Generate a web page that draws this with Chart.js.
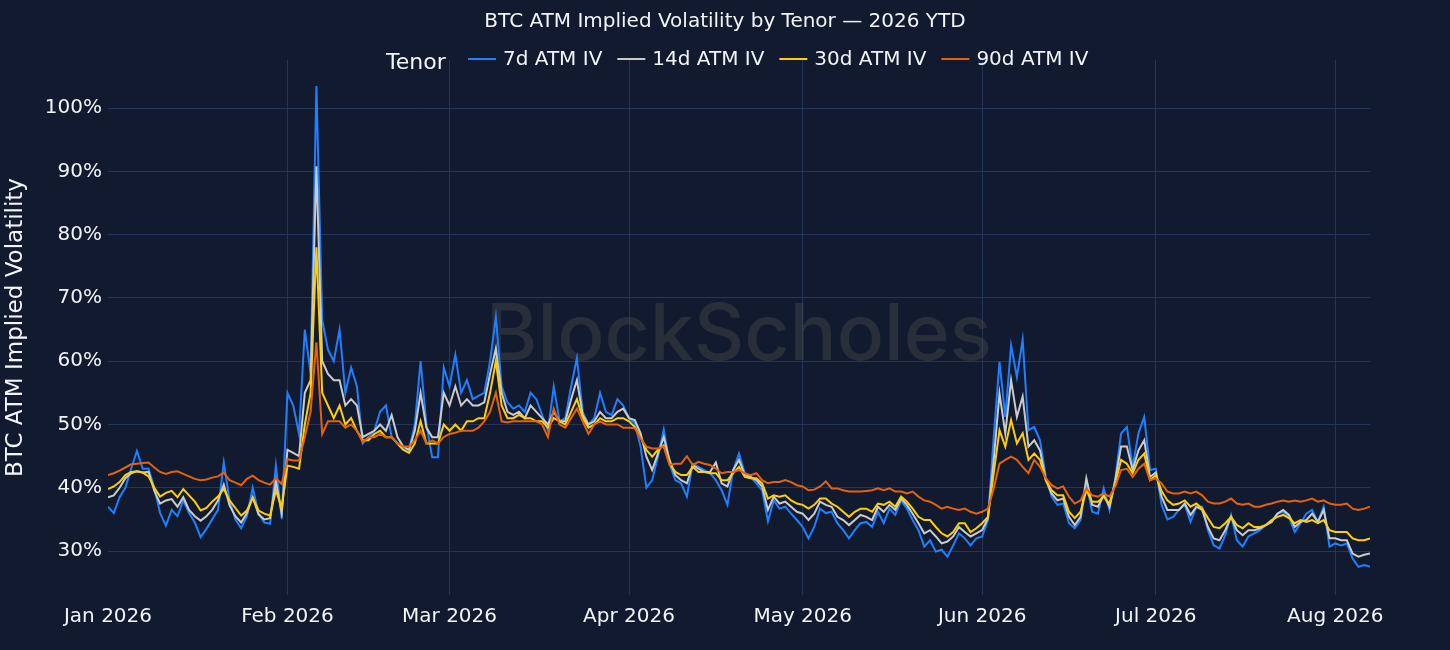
<!DOCTYPE html>
<html>
<head>
<meta charset="utf-8">
<title>BTC ATM Implied Volatility by Tenor</title>
<script src="https://cdn.jsdelivr.net/npm/chart.js@4.4.1/dist/chart.umd.min.js"></script>
<style>
    html, body { margin: 0; padding: 0; background: #111a2e; }
    #ivChart { display: block; }
</style>
</head>
<body>
<canvas id="ivChart" width="1450" height="650"></canvas>
<script>
// BTC ATM implied vol by tenor, one reading per day. Day 0 = 1 Jan 2026.
const chartTitle = 'BTC ATM Implied Volatility by Tenor — 2026 YTD';
const yAxisTitle = 'BTC ATM Implied Volatility';
const legendTitle = 'Tenor';
const watermark = 'BlockScholes';

const monthStarts = [0, 31, 59, 90, 120, 151, 181, 212];
const monthLabels = ['Jan 2026', 'Feb 2026', 'Mar 2026', 'Apr 2026', 'May 2026', 'Jun 2026', 'Jul 2026', 'Aug 2026'];
const yTicks = [30, 40, 50, 60, 70, 80, 90, 100];

const seriesLabels = ['7d ATM IV', '14d ATM IV', '30d ATM IV', '90d ATM IV'];
const seriesColors = ['#1f80ff', '#cbcbcb', '#ffd000', '#e5620b'];

const iv7d = [
    37.0, 36.0, 38.5, 40.0, 43.0, 45.8, 43.0, 43.0, 40.0, 36.0,
    34.0, 36.5, 35.5, 38.0, 36.0, 34.5, 32.2, 33.5, 35.0, 36.5,
    44.0, 38.0, 35.0, 33.6, 35.5, 40.0, 36.0, 34.5, 34.3, 43.5,
    35.2, 55.0, 53.0, 48.5, 65.0, 58.0, 103.5, 66.5, 61.8, 60.0,
    65.0, 55.0, 59.0, 56.0, 47.0, 48.0, 49.0, 52.0, 53.0, 48.0,
    47.0, 46.0, 46.0, 50.0, 60.0, 50.0, 44.8, 44.8, 59.0, 56.0,
    61.0, 55.0, 57.0, 54.0, 54.5, 55.0, 60.0, 67.0, 56.0, 53.5,
    52.5, 53.0, 52.0, 55.0, 54.0, 51.5, 49.0, 56.0, 50.5, 51.0,
    56.0, 60.5, 52.0, 50.0, 51.0, 55.0, 52.0, 51.5, 54.0, 53.0,
    51.0, 50.2, 46.5, 40.0, 41.2, 44.9, 49.2, 43.8, 41.2, 40.7,
    38.6, 43.8, 43.3, 42.8, 42.3, 41.2, 39.6, 37.3, 42.8, 45.4,
    42.3, 41.7, 40.7, 39.6, 34.7, 38.0, 36.7, 37.0, 35.9, 34.9,
    33.8, 32.0, 33.8, 36.7, 36.0, 36.2, 34.4, 33.3, 32.0, 33.3,
    34.4, 34.6, 33.8, 36.2, 34.4, 36.7, 35.7, 38.0, 36.7, 34.9,
    33.3, 30.7, 31.7, 29.9, 30.2, 29.1, 30.9, 32.8, 32.0, 30.9,
    32.0, 32.3, 34.9, 48.1, 59.9, 51.2, 62.5, 57.5, 63.4, 49.1,
    49.6, 47.5, 41.7, 38.6, 37.3, 37.5, 34.4, 33.6, 34.9, 40.7,
    36.2, 35.9, 39.9, 36.5, 41.5, 48.6, 49.6, 43.3, 48.6, 51.2,
    42.8, 43.0, 37.3, 35.0, 35.4, 36.5, 37.3, 34.6, 37.0, 37.0,
    33.3, 30.9, 30.4, 32.5, 35.7, 31.7, 30.7, 32.3, 32.8, 33.3,
    34.1, 34.6, 35.9, 36.2, 35.4, 33.0, 34.4, 35.9, 36.5, 34.6,
    37.0, 30.7, 31.2, 30.9, 31.2, 28.8, 27.5, 27.8, 27.5
];

const iv14d = [
    38.5, 38.8, 40.0, 41.5, 42.3, 42.6, 42.4, 42.5, 39.5, 37.5,
    38.0, 38.2, 37.0, 38.5, 36.5, 35.5, 34.8, 35.5, 36.5, 38.0,
    40.5, 37.2, 35.5, 34.5, 36.0, 38.5, 35.8, 35.0, 35.2, 41.0,
    36.0, 46.0, 45.5, 45.0, 55.0, 57.0, 90.8, 60.0, 58.0, 57.0,
    57.0, 53.0, 54.0, 53.0, 48.0, 48.5, 49.0, 50.0, 49.0, 51.5,
    48.0, 46.5, 46.0, 49.0, 55.0, 49.5, 48.0, 48.0, 55.0, 53.0,
    56.0, 53.0, 54.0, 53.0, 53.0, 53.5, 58.0, 62.0, 55.0, 52.0,
    51.5, 52.0, 51.0, 53.0, 52.0, 51.0, 50.0, 52.0, 50.5, 50.5,
    54.0, 57.0, 51.5, 50.0, 50.5, 52.0, 51.0, 51.0, 52.0, 52.5,
    51.0, 50.7, 48.6, 44.9, 42.8, 45.4, 48.0, 44.4, 42.0, 41.2,
    40.7, 43.6, 43.0, 42.5, 42.5, 44.0, 40.7, 40.2, 42.8, 44.4,
    42.0, 41.7, 41.2, 40.2, 36.5, 38.6, 37.5, 37.8, 37.0, 36.2,
    35.9, 34.9, 35.9, 37.8, 37.3, 37.0, 35.4, 34.9, 34.1, 34.9,
    35.7, 35.4, 34.9, 37.0, 36.2, 37.3, 36.5, 38.3, 37.3, 35.9,
    34.4, 32.8, 33.3, 32.3, 31.2, 31.5, 32.3, 33.8, 33.0, 32.3,
    32.8, 33.3, 35.2, 44.4, 54.9, 48.6, 57.0, 51.2, 54.4, 46.5,
    47.5, 45.9, 41.2, 39.1, 38.0, 38.3, 35.4, 34.1, 35.4, 41.5,
    37.3, 37.0, 38.8, 37.0, 41.2, 46.5, 46.5, 42.8, 45.9, 47.5,
    41.7, 42.4, 38.6, 36.5, 36.5, 36.5, 37.5, 35.7, 37.0, 36.5,
    33.8, 32.0, 31.7, 33.3, 35.4, 33.3, 32.5, 33.3, 33.3, 33.6,
    34.1, 34.6, 35.9, 36.5, 35.7, 33.8, 34.6, 34.9, 35.9, 34.6,
    36.5, 32.0, 32.0, 31.7, 31.7, 29.6, 29.1, 29.4, 29.6
];

const iv30d = [
    39.8, 40.2, 40.9, 42.0, 42.5, 42.6, 42.4, 41.8, 40.0, 38.6,
    39.2, 39.5, 38.5, 39.8, 38.8, 37.8, 36.4, 36.8, 37.8, 38.6,
    39.8, 38.0, 36.8, 35.6, 36.4, 38.4, 36.4, 35.9, 35.6, 39.6,
    36.8, 43.5, 43.3, 43.0, 50.0, 55.0, 78.0, 55.0, 53.0, 51.0,
    53.0, 50.0, 51.0, 49.0, 47.5, 47.5, 48.5, 49.0, 48.0, 48.0,
    47.0, 46.0, 45.5, 47.0, 50.5, 47.0, 47.0, 47.0, 50.0, 49.0,
    50.0, 49.0, 50.5, 50.5, 51.0, 51.0, 55.0, 60.0, 53.0, 51.0,
    51.0, 51.5, 51.0, 51.0, 50.5, 50.5, 49.5, 51.0, 50.5, 50.0,
    52.0, 54.0, 51.0, 49.5, 50.0, 51.0, 50.5, 50.5, 51.0, 51.0,
    50.5, 49.6, 48.0, 46.0, 44.9, 46.0, 46.7, 43.8, 42.5, 42.0,
    42.0, 43.3, 42.5, 42.5, 42.3, 42.3, 41.2, 41.2, 42.3, 43.3,
    41.7, 41.5, 41.5, 40.7, 38.3, 38.8, 38.6, 38.8, 38.0, 37.5,
    37.3, 36.7, 37.3, 38.3, 38.3, 37.5, 37.0, 36.2, 35.4, 36.2,
    36.7, 36.7, 36.2, 37.5, 37.3, 37.8, 37.0, 38.6, 37.8, 36.7,
    35.4, 34.9, 34.9, 33.8, 32.8, 32.3, 33.0, 34.4, 34.4, 33.0,
    33.6, 34.4, 35.4, 42.3, 49.1, 46.5, 50.7, 47.0, 48.6, 44.4,
    45.4, 44.4, 41.2, 39.6, 38.8, 38.8, 36.2, 35.2, 36.2, 39.6,
    37.8, 37.8, 38.6, 37.5, 40.7, 44.4, 43.8, 42.3, 44.4, 45.4,
    41.2, 42.0, 39.5, 38.0, 37.3, 37.5, 38.0, 37.0, 37.5, 36.7,
    35.2, 33.8, 33.6, 34.4, 35.4, 34.1, 33.6, 34.4, 33.8, 33.8,
    34.1, 34.9, 35.4, 35.7, 35.2, 34.4, 34.9, 34.6, 34.9, 34.4,
    34.9, 33.3, 33.0, 33.0, 33.0, 32.0, 31.7, 31.7, 32.0
];

const iv90d = [
    42.0, 42.3, 42.7, 43.2, 43.7, 43.8, 43.9, 44.0, 43.2, 42.5,
    42.2, 42.5, 42.6, 42.2, 41.8, 41.4, 41.2, 41.3, 41.6, 41.8,
    42.4, 41.2, 40.8, 40.4, 41.4, 41.9, 41.2, 40.8, 40.5, 41.5,
    40.6, 44.5, 44.3, 44.3, 48.0, 52.0, 63.0, 48.5, 50.5, 50.5,
    50.5, 49.5, 50.0, 49.0, 47.2, 48.0, 48.0, 48.5, 48.0, 48.0,
    47.0, 46.5, 46.5, 47.5, 49.0, 47.0, 47.5, 47.0, 48.0, 48.5,
    48.7, 49.0, 49.0, 49.0, 49.5, 50.5, 52.0, 55.0, 50.5, 50.3,
    50.5, 50.5, 50.5, 50.5, 50.5, 50.0, 48.0, 52.5, 50.0, 49.5,
    51.0, 52.5, 50.5, 48.5, 50.0, 50.5, 50.0, 50.0, 50.0, 49.5,
    49.5, 49.4, 47.8, 46.5, 46.2, 46.2, 46.5, 43.6, 43.8, 43.8,
    45.0, 43.6, 44.1, 43.8, 43.6, 43.0, 42.3, 42.5, 42.5, 42.8,
    42.3, 42.0, 42.3, 41.2, 40.7, 40.9, 40.9, 41.2, 40.9, 40.4,
    40.2, 39.6, 39.7, 40.2, 41.0, 39.9, 39.9, 39.6, 39.4, 39.4,
    39.4, 39.5, 39.6, 39.9, 39.6, 39.9, 39.4, 39.4, 39.1, 39.4,
    38.6, 38.0, 37.8, 37.3, 36.7, 37.0, 36.7, 36.5, 36.7, 36.2,
    35.9, 36.2, 36.7, 39.9, 43.8, 44.4, 44.9, 44.4, 43.3, 42.3,
    44.4, 43.3, 41.5, 40.4, 39.9, 40.2, 38.6, 37.5, 38.0, 39.9,
    38.8, 38.6, 39.1, 38.6, 40.2, 42.8, 43.0, 41.7, 43.0, 43.8,
    41.2, 41.5, 40.7, 39.4, 39.1, 39.1, 39.4, 39.1, 39.4, 38.8,
    37.8, 37.5, 37.5, 37.8, 38.3, 37.5, 37.3, 37.5, 37.0, 37.0,
    37.3, 37.5, 37.8, 38.0, 37.8, 38.0, 37.8, 38.0, 38.3, 37.8,
    38.0, 37.5, 37.3, 37.3, 37.5, 36.7, 36.5, 36.7, 37.0
];

const seriesValues = [iv7d, iv14d, iv30d, iv90d];

const fontFamily = "'DejaVu Sans', Verdana, sans-serif";
const textColor = '#f2f4f8';
const gridColor = '#25355a';

function toPoints(values) {
    return values.map((v, day) => ({ x: day, y: v }));
}

// Title, legend with its "Tenor" heading, and the watermark are painted by hand.
const decorPlugin = {
    id: 'decor',
    beforeDatasetsDraw(chart) {
        const { ctx, chartArea } = chart;
        const markFont = (size) => `500 ${size}px Inter, Lato, ${fontFamily}`;
        ctx.save();
        ctx.font = markFont(80);
        const size = 80 * 506 / ctx.measureText(watermark).width;
        ctx.font = markFont(size);
        ctx.fillStyle = 'rgba(72, 72, 76, 0.45)';
        ctx.textAlign = 'center';
        ctx.textBaseline = 'alphabetic';
        ctx.fillText(watermark, (chartArea.left + chartArea.right) / 2, 360);
        ctx.restore();
    },
    afterDraw(chart) {
        const ctx = chart.ctx;
        ctx.save();
        ctx.fillStyle = textColor;
        ctx.textBaseline = 'middle';

        ctx.font = `20px ${fontFamily}`;
        ctx.textAlign = 'center';
        ctx.fillText(chartTitle, chart.width / 2, 22);

        ctx.textAlign = 'left';
        ctx.font = `22px ${fontFamily}`;
        ctx.fillText(legendTitle, 386, 63);

        ctx.font = `20px ${fontFamily}`;
        let x = 468;
        chart.data.datasets.forEach((ds) => {
            ctx.strokeStyle = ds.borderColor;
            ctx.lineWidth = 2;
            ctx.beginPath();
            ctx.moveTo(x, 59);
            ctx.lineTo(x + 28, 59);
            ctx.stroke();
            ctx.fillStyle = textColor;
            ctx.fillText(ds.label, x + 35, 60);
            x += 35 + ctx.measureText(ds.label).width + 15;
        });
        ctx.restore();
    },
};

const datasets = seriesLabels.map((label, i) => ({
    label,
    data: toPoints(seriesValues[i]),
    borderColor: seriesColors[i],
    backgroundColor: seriesColors[i],
    borderWidth: 2,
    pointRadius: 0,
    tension: 0,
    fill: false,
    order: seriesLabels.length - 1 - i,
}));

new Chart(document.getElementById('ivChart'), {
    type: 'line',
    data: { datasets },
    options: {
        responsive: false,
        animation: false,
        layout: { padding: { top: 60, right: 80, left: 0, bottom: 0 } },
        plugins: {
            legend: { display: false },
            title: { display: false },
            tooltip: { enabled: false },
        },
        scales: {
            x: {
                type: 'linear',
                min: 0,
                max: 218,
                afterBuildTicks: (scale) => {
                    scale.ticks = monthStarts.map((v) => ({ value: v }));
                },
                afterFit: (scale) => {
                    scale.height = 55;
                },
                ticks: {
                    autoSkip: false,
                    maxRotation: 0,
                    padding: 10,
                    color: textColor,
                    font: { family: fontFamily, size: 20 },
                    callback: (value) => monthLabels[monthStarts.indexOf(value)],
                },
                grid: {
                    color: (ctx) => (ctx.tick && ctx.tick.value === 0 ? 'rgba(0,0,0,0)' : gridColor),
                    lineWidth: 1,
                    drawTicks: false,
                },
                border: { display: false },
            },
            y: {
                type: 'linear',
                min: 23.05,
                max: 107.6,
                afterBuildTicks: (scale) => {
                    scale.ticks = yTicks.map((v) => ({ value: v }));
                },
                afterFit: (scale) => {
                    scale.width = 108;
                },
                ticks: {
                    padding: 6,
                    color: textColor,
                    font: { family: fontFamily, size: 20 },
                    callback: (value) => `${value}%`,
                },
                grid: {
                    color: gridColor,
                    lineWidth: 1,
                    drawTicks: false,
                },
                border: { display: false },
                title: {
                    display: true,
                    text: yAxisTitle,
                    color: textColor,
                    padding: { top: 2, bottom: 2 },
                    font: { family: fontFamily, size: 23 },
                },
            },
        },
    },
    plugins: [decorPlugin],
});
</script>
</body>
</html>
